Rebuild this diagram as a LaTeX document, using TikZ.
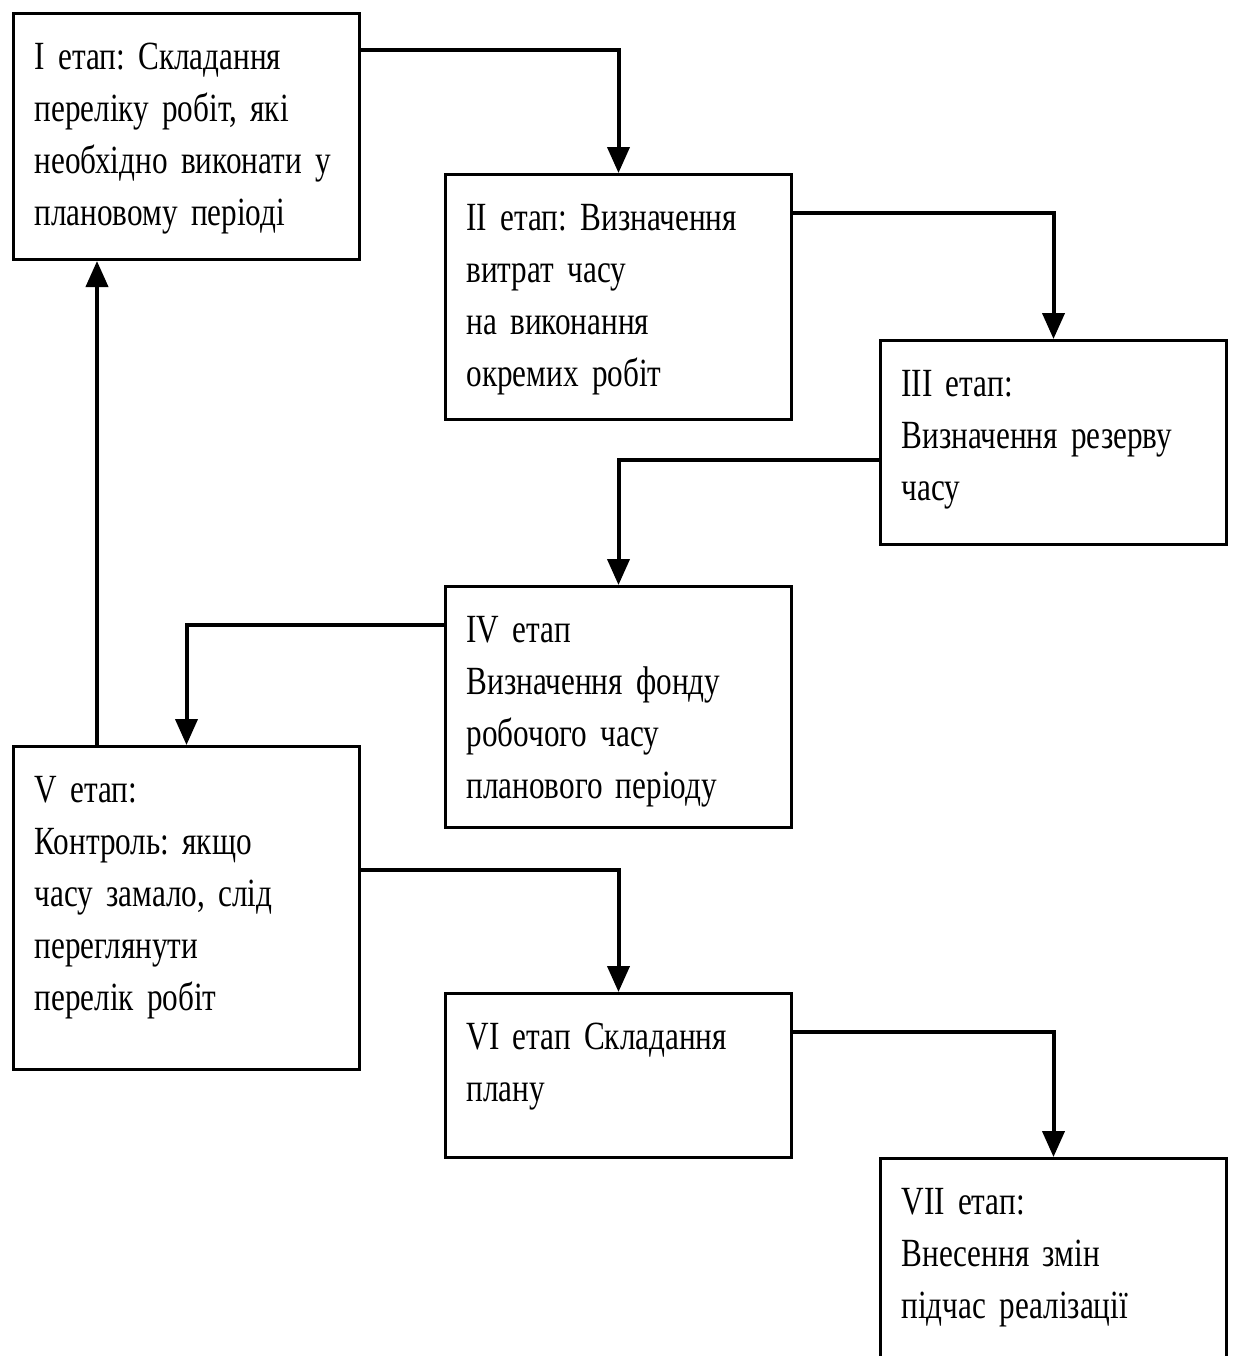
\documentclass[tikz,border=0pt]{standalone}
\usepackage{fontspec}
\setmainfont[FakeStretch=0.78,WordSpace=0.6]{Liberation Serif}
\usetikzlibrary{arrows.meta}
\hfuzz=30pt
\frenchspacing
\tikzset{
  stage/.style={draw, line width=1.5pt, anchor=north west, inner xsep=10.5pt, inner ysep=0pt,
    text width=152pt, align=left, text height=28pt,
    font=\fontsize{20pt}{26pt}\selectfont},
  conn/.style={line width=2pt, -{Triangle[width=11pt,length=13pt]}}
}
\begin{document}
\begin{tikzpicture}[x=0.5pt,y=-0.5pt]
\useasboundingbox (0,0) rectangle (1233,1356);
\clip (0,0) rectangle (1233,1356);
\node[stage, text depth=95pt] (b1) at (12,12) {I етап: Складання\\ переліку робіт, які\\ \mbox{необхідно виконати у}\\ плановому періоді};
\node[stage, text depth=94.5pt] (b2) at (444,173) {II етап: Визначення\\ витрат часу\\ на виконання\\ окремих робіт};
\node[stage, text depth=74pt] (b3) at (879,339) {III етап:\\ Визначення резерву\\ часу};
\node[stage, text depth=92.5pt] (b4) at (444,585) {IV етап\\ Визначення фонду\\ робочого часу\\ планового періоду};
\node[stage, text depth=133.5pt] (b5) at (12,745) {V етап:\\ Контроль: якщо\\ часу замало, слід\\ переглянути\\ перелік робіт};
\node[stage, text depth=54pt] (b6) at (444,992) {VI етап Складання\\ плану};
\node[stage, text depth=102pt] (b7) at (879,1157) {VII етап:\\ Внесення змін\\ підчас реалізації};
\draw[conn] ([yshift=-19pt]b1.north east) -| (b2.north);
\draw[conn] ([yshift=-20pt]b2.north east) -| (b3.north);
\draw[conn] ([yshift=-60.5pt]b3.north west) -| (b4.north);
\draw[conn] ([yshift=-20pt]b4.north west) -| (b5.north);
\draw[conn] ([xshift=42.5pt]b5.north west) -- ([xshift=42.5pt]b1.south west);
\draw[conn] ([yshift=-62.5pt]b5.north east) -| (b6.north);
\draw[conn] ([yshift=-20pt]b6.north east) -| (b7.north);
\end{tikzpicture}
\end{document}
